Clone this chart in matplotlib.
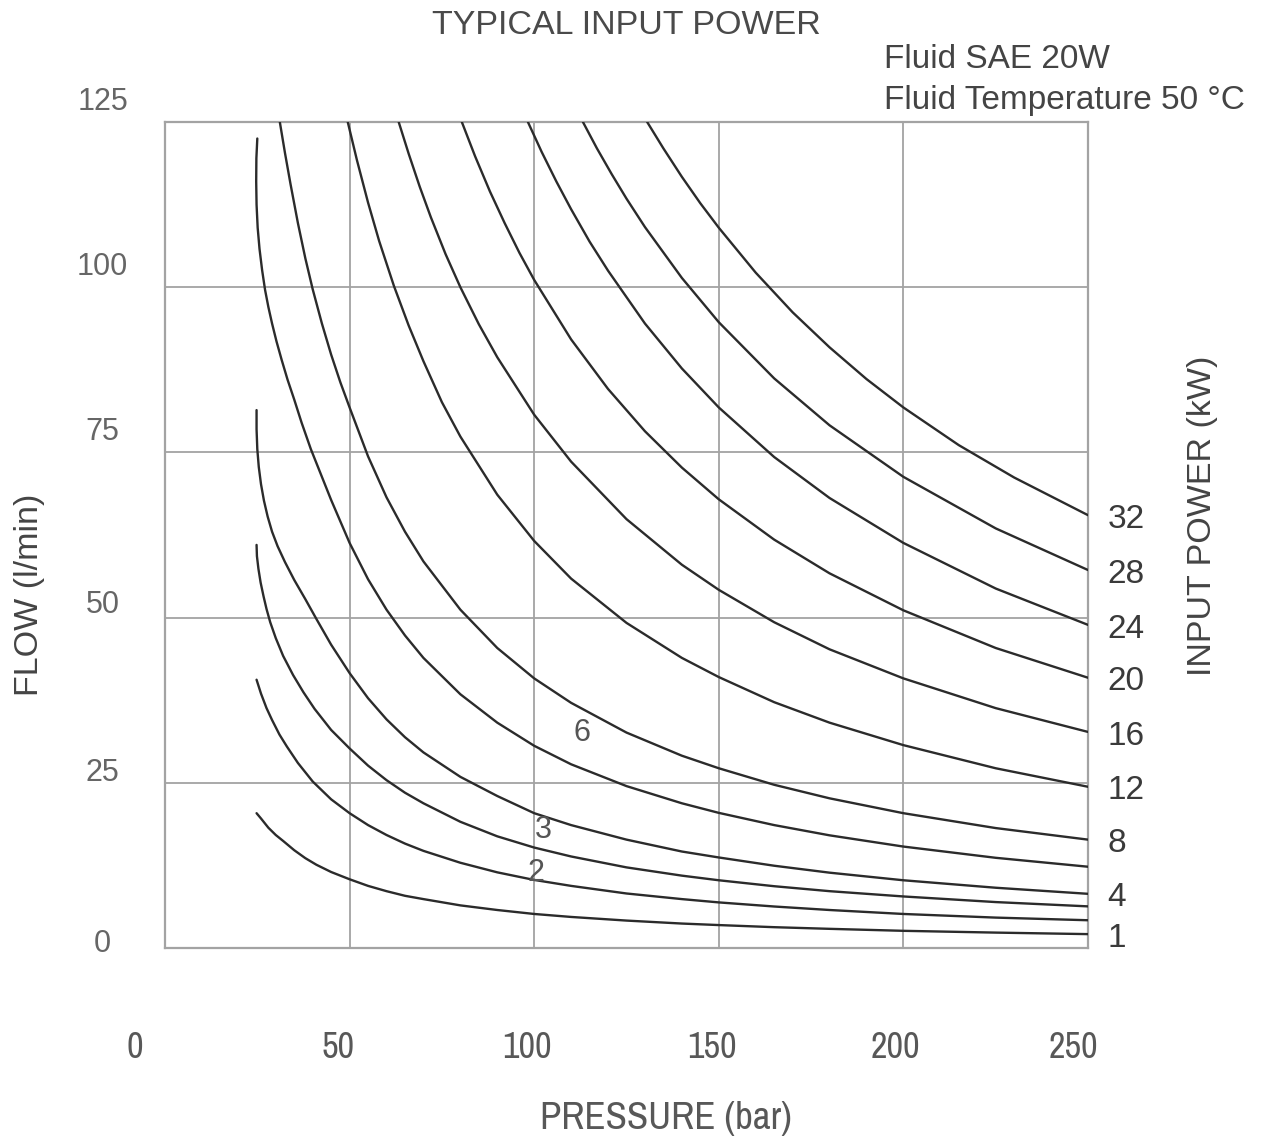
import matplotlib
matplotlib.use("Agg")
import matplotlib.pyplot as plt
import matplotlib.transforms as mtransforms

# ---- data (pressure in bar, flow in l/min) ----
p_1 = [24.8, 26, 28, 30, 32, 35, 38, 41, 45, 50, 55, 60, 65, 70, 80, 90, 100, 110, 125, 140, 150, 165, 180, 200, 225, 250]
q_1 = [20.4, 19.6, 18.2, 17.1, 16.2, 14.8, 13.6, 12.6, 11.5, 10.4, 9.4, 8.6, 7.9, 7.4, 6.45, 5.75, 5.15, 4.7, 4.15, 3.7, 3.47, 3.15, 2.9, 2.6, 2.33, 2.1]

p_2 = [24.8, 26, 27.5, 29, 31, 33, 36, 40, 45, 50, 55, 60, 65, 70, 80, 90, 100, 110, 125, 140, 150, 165, 180, 200, 225, 250]
q_2 = [40.6, 38.5, 36.3, 34.5, 32.3, 30.5, 28.0, 25.2, 22.5, 20.4, 18.6, 17.1, 15.8, 14.7, 12.9, 11.45, 10.3, 9.4, 8.25, 7.4, 6.9, 6.28, 5.75, 5.15, 4.6, 4.2]

p_3 = [24.8, 24.9, 25.3, 25.9, 26.7, 27.5, 28.5, 30, 32, 34.7, 37.5, 40.5, 45, 50, 55, 60, 65, 70, 80, 90, 100, 110, 125, 140, 150, 165, 180, 200, 225, 250]
q_3 = [61.0, 59.3, 57.4, 55.3, 53.2, 51.3, 49.3, 46.9, 44.2, 41.3, 38.7, 36.2, 33.0, 30.2, 27.6, 25.4, 23.5, 21.9, 19.1, 16.9, 15.2, 13.85, 12.2, 10.95, 10.25, 9.35, 8.6, 7.8, 6.95, 6.3]

p_4 = [24.8, 24.8, 25.0, 25.4, 26.0, 26.8, 27.8, 29, 30.5, 32.5, 35, 38, 41, 45, 50, 55, 60, 65, 70, 80, 90, 100, 110, 125, 140, 150, 165, 180, 200, 225, 250]
q_4 = [81.4, 78.5, 75.5, 72.8, 70.2, 67.7, 65.3, 63.0, 60.8, 58.4, 55.7, 52.8, 49.8, 45.9, 41.6, 37.8, 34.6, 31.9, 29.6, 25.9, 23.0, 20.4, 18.6, 16.4, 14.6, 13.7, 12.45, 11.4, 10.25, 9.12, 8.2]

p_6 = [25.0, 24.75, 24.7, 24.8, 25.1, 25.6, 26.3, 27.1, 28, 29, 30.2, 31.6, 33.2, 35, 37, 39.5, 42, 45, 50, 55, 60, 65, 70, 80, 90, 100, 110, 125, 140, 150, 165, 180, 200, 225, 250]
q_6 = [122.5, 119.5, 116.0, 112.5, 109.0, 105.8, 102.6, 99.6, 97.0, 94.5, 91.8, 89.0, 86.0, 83.0, 79.5, 75.5, 72.0, 67.8, 61.3, 55.8, 51.2, 47.3, 43.9, 38.4, 34.1, 30.6, 27.8, 24.5, 21.9, 20.45, 18.6, 17.05, 15.35, 13.65, 12.3]

p_8 = [31.1, 32.5, 34, 36, 38, 40, 42.5, 45, 47.5, 50, 55, 60, 65, 70, 80, 90, 100, 110, 125, 140, 150, 165, 180, 200, 225, 250]
q_8 = [125, 120.3, 115.6, 109.7, 104.4, 99.7, 94.5, 89.8, 85.6, 81.8, 74.4, 68.2, 63.0, 58.5, 51.2, 45.4, 40.8, 37.1, 32.6, 29.1, 27.2, 24.7, 22.65, 20.4, 18.15, 16.4]

p_12 = [49.5, 52, 55, 58, 62, 66, 70, 75, 80, 90, 100, 110, 125, 140, 150, 165, 180, 200, 225, 250]
q_12 = [125, 119.2, 112.8, 107.0, 100.2, 94.2, 88.8, 82.6, 77.4, 68.6, 61.6, 55.9, 49.2, 43.9, 41.0, 37.2, 34.1, 30.7, 27.2, 24.4]

p_16 = [63.3, 66, 69, 72, 76, 80, 85, 90, 100, 110, 125, 140, 150, 165, 180, 200, 225, 250]
q_16 = [125, 120.2, 115.2, 110.6, 105.0, 100.0, 94.4, 89.4, 80.7, 73.6, 64.9, 58.0, 54.2, 49.3, 45.2, 40.8, 36.3, 32.7]

p_20 = [80.4, 84, 88, 92, 96, 100, 110, 120, 130, 140, 150, 165, 180, 200, 225, 250]
q_20 = [125, 119.8, 114.5, 109.7, 105.2, 101.1, 92.1, 84.6, 78.2, 72.7, 67.9, 61.8, 56.7, 51.1, 45.4, 40.9]

p_24 = [98.3, 102, 106, 110, 115, 120, 130, 140, 150, 165, 180, 200, 225, 250]
q_24 = [125, 120.5, 116.0, 111.8, 106.9, 102.5, 94.5, 87.7, 81.8, 74.3, 68.1, 61.3, 54.4, 48.9]

p_28 = [113.2, 117, 121, 125, 130, 140, 150, 165, 180, 200, 225, 250]
q_28 = [125, 121.0, 117.1, 113.4, 109.1, 101.4, 94.7, 86.2, 79.1, 71.3, 63.5, 57.2]

p_32 = [130.6, 135, 140, 145, 150, 160, 170, 180, 190, 200, 215, 230, 250]
q_32 = [125, 121.0, 116.7, 112.7, 109.0, 102.2, 96.2, 90.9, 86.1, 81.8, 76.1, 71.2, 65.5]

power_kw = [1, 2, 3, 4, 6, 8, 12, 16, 20, 24, 28, 32]
pressures = [p_1, p_2, p_3, p_4, p_6, p_8, p_12, p_16, p_20, p_24, p_28, p_32]
flows = [q_1, q_2, q_3, q_4, q_6, q_8, q_12, q_16, q_20, q_24, q_28, q_32]

# curves labelled at the right edge vs. labelled inside the plot
right_labelled = [1, 4, 8, 12, 16, 20, 24, 28, 32]
inline_labels = {6: (113, 32.5), 3: (102.4, 17.9), 2: (100.5, 11.4)}

x_ticks = [0, 50, 100, 150, 200, 250]
y_ticks = [0, 25, 50, 75, 100, 125]

# small nudges (pixels) of the tick labels as placed in the original
x_tick_dx = [-30, -12, -7, -7, -8, -15]
y_tick_dy = [8, 13, 16, 24, 24, 24]

W, H = 1265, 1141
fig = plt.figure(figsize=(W / 100, H / 100), dpi=100)
ax = fig.add_axes([165 / W, 1 - 948 / H, (1088 - 165) / W, (948 - 122) / H])

sans = ["Liberation Sans", "DejaVu Sans"]
narrow = ["Archivo Narrow", "Liberation Sans", "DejaVu Sans"]
grid_c = "#a3a3a3"

for kw, px, fl in zip(power_kw, pressures, flows):
    ax.plot(px, fl, color="#2b2b2b", lw=1.7, solid_joinstyle="round",
            solid_capstyle="round", zorder=3)
    if kw in right_labelled:
        ax.annotate(str(kw), xy=(px[-1], fl[-1]), xytext=(14, -3),
                    textcoords="offset points", ha="left", va="center",
                    fontsize=24, color="#3a3a3a", family=sans,
                    annotation_clip=False)

for kw, (lx, ly) in inline_labels.items():
    ax.text(lx, ly, str(kw), ha="center", va="center", fontsize=22,
            color="#555555", family=sans, zorder=4)

ax.set_xlim(0, 250)
ax.set_ylim(0, 125)
ax.set_xticks(x_ticks)
ax.set_yticks(y_ticks)
ax.grid(True, color=grid_c, lw=1.3, zorder=1)
for s in ax.spines.values():
    s.set_color(grid_c)
    s.set_linewidth(1.6)
ax.tick_params(length=0)

ax.set_xticklabels([str(v) for v in x_ticks], fontsize=26, color="#585858",
                   family=narrow)
ax.set_yticklabels([str(v) for v in y_ticks], fontsize=22, color="#666666",
                   family=sans, ha="center")
ax.tick_params(axis="x", pad=60)
ax.tick_params(axis="y", pad=45)

for lab, dx in zip(ax.get_xticklabels(), x_tick_dx):
    lab.set_transform(lab.get_transform() +
                      mtransforms.ScaledTranslation(dx / 100, 0, fig.dpi_scale_trans))
for lab, dy in zip(ax.get_yticklabels(), y_tick_dy):
    lab.set_transform(lab.get_transform() +
                      mtransforms.ScaledTranslation(0, dy / 100, fig.dpi_scale_trans))

fig.text(626 / W, 1 - 25 / H, "TYPICAL INPUT POWER", ha="center", va="center",
         fontsize=24.5, color="#4a4a4a", family=sans)
fig.text(884 / W, 1 - 60 / H, "Fluid SAE 20W", ha="left", va="center",
         fontsize=24, color="#444444", family=sans)
fig.text(884 / W, 1 - 100 / H, "Fluid Temperature 50 °C", ha="left", va="center",
         fontsize=24, color="#444444", family=sans)
fig.text(30 / W, 1 - 595 / H, "FLOW (l/min)", rotation=90, ha="center",
         va="center", fontsize=24.5, color="#444444", family=sans)
fig.text(1203 / W, 1 - 516 / H, "INPUT POWER (kW)", rotation=90, ha="center",
         va="center", fontsize=24.5, color="#444444", family=sans)
fig.text(666 / W, 1 - 1118 / H, "PRESSURE (bar)", ha="center", va="center",
         fontsize=28, color="#585858", family=narrow)

fig.savefig("out.png", dpi=100, facecolor="white")
